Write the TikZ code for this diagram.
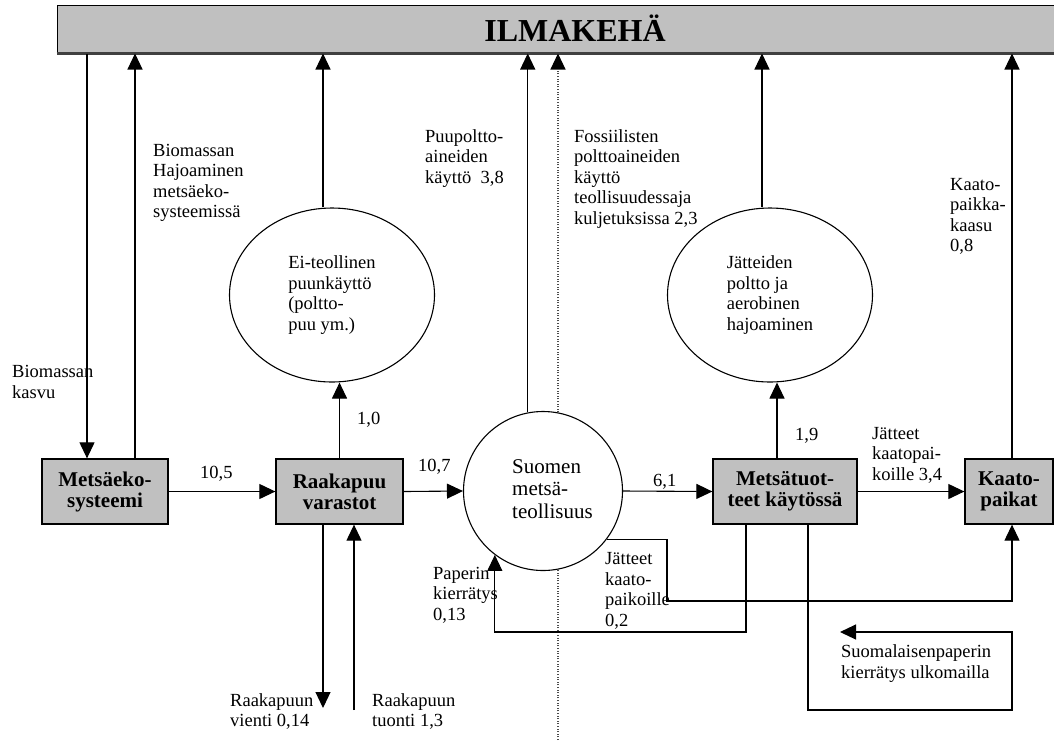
\documentclass[tikz,border=0pt]{standalone}
\usepackage{fontspec}
\setmainfont{Liberation Serif}
\usetikzlibrary{arrows.meta,shapes.geometric}
\definecolor{boxgray}{HTML}{C0C0C0}
\newcommand\lblfont{\fontsize{18.5}{20.5}\selectfont}

\begin{document}
\begin{tikzpicture}[x=1pt,y=-1pt,
  flow/.style={line width=1.1pt,-{Triangle[length=16pt,width=15pt]}},
  dotline/.style={line width=1.1pt,black!70,dash pattern=on 1pt off 1.6pt,-{Triangle[length=16pt,width=15pt,black]}},
  stock/.style={draw,line width=1.3pt,fill=boxgray,minimum height=65pt,inner sep=0pt,
    align=center,font=\fontsize{21}{21}\selectfont\bfseries},
  proc/.style={draw,ellipse,line width=1.1pt,fill=white,minimum width=205pt,
    minimum height=174pt,inner sep=0pt,align=left,font=\lblfont},
  lbl/.style={anchor=base west,inner sep=0pt,align=left,font=\lblfont},
]
\useasboundingbox (0,0) rectangle (1054,740);

% atmosphere bar
\node[draw,fill=boxgray,line width=1pt,minimum width=1003pt,minimum height=48pt,inner sep=0pt] (bar) at (558.5,29) {};
\draw[line width=2.4pt,black!75] (bar.south west) -- (bar.south east);
\node[anchor=base,inner sep=0pt,font=\fontsize{32}{32}\selectfont\bfseries] (title) at (575,41) {ILMAKEHÄ};

% stocks
\node[stock,minimum width=126pt] (meco) at (105,491.5) {Metsäeko-\\systeemi};
\node[stock,minimum width=127pt] (raaka) at (339.5,491.5) {Raakapuu\\varastot};
\node[stock,minimum width=144pt] (metsat) at (785,491.5) {Metsätuot-\\teet käytössä};
\node[stock,minimum width=88pt] (kaato) at (1009,491.5) {Kaato-\\paikat};

% processes
\node[proc] (ei) at (332,295) {Ei-teollinen\\puunkäyttö\\(poltto-\\puu ym.)};
\node[proc] (jat) at (770,295) {Jätteiden\\poltto ja\\aerobinen\\hajoaminen};

% dotted divider (behind the industry circle)
\coordinate (dotend) at (558,740);
\draw[dotline] (dotend) -- (dotend |- bar.south);

\node[draw,circle,fill=white,line width=1.1pt,minimum size=159pt,inner sep=0pt] (suomen) at (543,491) {};
% multi-line labels are anchored at the baseline of their last line
\node[lbl,font=\fontsize{21}{22.5}\selectfont] (suomenlbl) at (512,518) {Suomen\\metsä-\\teollisuus};

% vertical positions of connectors
\coordinate (xa) at (87,0);
\coordinate (xb) at (135,0);
\coordinate (xc) at (323,0);
\coordinate (xf) at (762,0);
\coordinate (xg) at (1012,0);
\coordinate (xi) at (777,0);
\coordinate (xj) at (323,0);
\coordinate (xl) at (746,0);
\coordinate (xm) at (808,0);
\coordinate (vientiend) at (323,708);
\coordinate (tuontistart) at (354,710);
\coordinate (paperlow) at (746,632);
\coordinate (jatcorner) at (667,601);
\coordinate (loopcorner) at (1012,710);
\coordinate (loopend) at (840,632);

% flows to and from the atmosphere
\draw[flow] (xa |- bar.south) -- (xa |- meco.north);
\draw[flow] (xb |- meco.north) -- (xb |- bar.south);
\draw[flow] (xc |- ei.north) -- (xc |- bar.south);
\draw[flow] (suomen.101.6) -- (suomen.101.6 |- bar.south);
\draw[flow] (xf |- jat.north) -- (xf |- bar.south);
\draw[flow] (xg |- kaato.north) -- (xg |- bar.south);

% flows between stocks and processes
\draw[flow] (raaka.north) -- (raaka.north |- ei.south);
\draw[flow] (xi |- metsat.north) -- (xi |- jat.south);
\draw[flow] (meco.east) -- (raaka.west);
\draw[flow] (raaka.east) -- (suomen.west);
\draw[flow] (suomen.east) -- (metsat.west);
\draw[flow] (metsat.east) -- (kaato.west);
\draw[flow] (xj |- raaka.south) -- (vientiend);
\draw[flow] (tuontistart) -- (tuontistart |- raaka.south);
\draw[flow] (xl |- metsat.south) -- (paperlow) -| (suomen.233.8);
\draw[flow] (suomen.-37.6) -| (jatcorner) -| (xg |- kaato.south);
\draw[flow] (xm |- metsat.south) |- (loopcorner) |- (loopend);

% labels
\node[lbl] (l1) at (12,398) {Biomassan\\kasvu};
\node[lbl] (l2) at (153,217.5) {Biomassan\\Hajoaminen\\metsäeko-\\systeemissä};
\node[lbl] (l3) at (425,183) {Puupoltto-\\aineiden\\käyttö\ \ 3,8};
\node[lbl] (l4) at (574,224) {Fossiilisten\\polttoaineiden\\käyttö\\teollisuudessaja\\kuljetuksissa 2,3};
\node[lbl] (l5) at (950,251.5) {Kaato-\\paikka-\\kaasu\\0,8};
\node[lbl] (l6) at (200,478) {10,5};
\node[lbl] (l7) at (357,424) {1,0};
\node[lbl] (l8) at (230,726.5) {Raakapuun\\vienti 0,14};
\node[lbl] (l9) at (372,726.5) {Raakapuun\\tuonti 1,3};
\node[lbl] (l10) at (418,471) {10,7};
\node[lbl] (l11) at (653,486) {6,1};
\node[lbl] (l12) at (433,620) {Paperin\\kierrätys\\0,13};
\node[lbl] (l13) at (605,626) {Jätteet\\kaato-\\paikoille\\0,2};
\node[lbl] (l14) at (795,440) {1,9};
\node[lbl] (l15) at (872,480) {Jätteet\\kaatopai-\\koille 3,4};
\node[lbl] (l16) at (841,678) {Suomalaisenpaperin\\kierrätys ulkomailla};
\end{tikzpicture}
\end{document}
